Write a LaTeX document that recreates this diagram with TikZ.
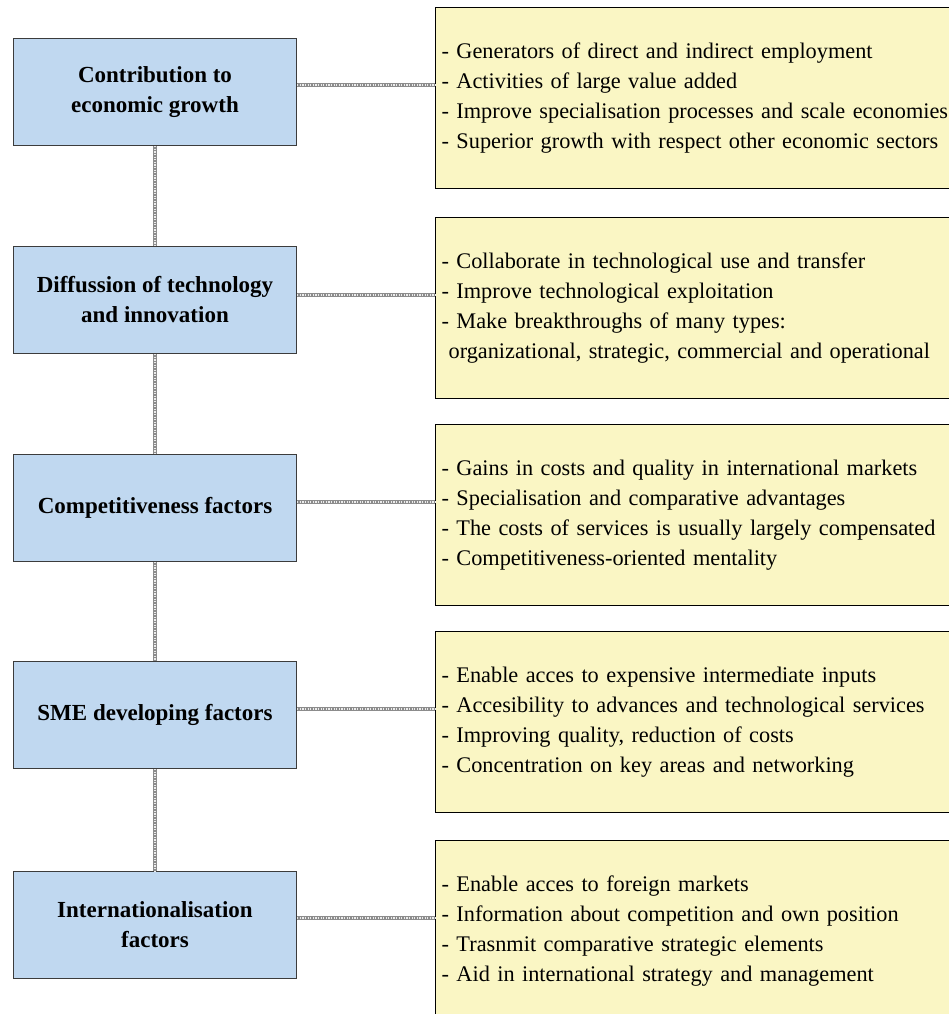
\documentclass[tikz,border=0pt]{standalone}
\usepackage{fontspec}
\setmainfont{Liberation Serif}
\definecolor{bluefill}{RGB}{192,216,240}
\definecolor{blueedge}{RGB}{60,60,60}
\definecolor{yelfill}{RGB}{250,246,196}
\definecolor{connc}{RGB}{140,140,140}
\begin{document}
\begin{tikzpicture}[x=1pt,y=-1pt,
  factor/.style={draw=blueedge,line width=1.3pt,fill=bluefill,minimum width=283pt,minimum height=107pt,
    align=center,font=\fontsize{23pt}{30pt}\selectfont\bfseries,inner sep=0pt},
  detail/.style={draw=black,line width=1.2pt,fill=yelfill,anchor=north west,minimum height=181pt,
    text width=560pt,align=left,inner xsep=6pt,inner ysep=0pt,
    font=\fontsize{22.3pt}{30pt}\selectfont},
  conn/.style={line width=3.6pt,draw=connc},
  conninner/.style={line width=1.4pt,draw=white!85!gray,dash pattern=on 1.3pt off 1.3pt}]
\clip (0,0) rectangle (949,1014);
\fill[white] (0,0) rectangle (949,1014);
% detail boxes
\node[detail] (y1) at (435,7) {- Generators of direct and indirect employment\\- Activities of large value added\\- Improve specialisation processes and scale economies\\- Superior growth with respect other economic sectors};
\node[detail] (y2) at (435,217) {- Collaborate in technological use and transfer\\- Improve technological exploitation\\- Make breakthroughs of many types:\\\hspace*{7pt}organizational, strategic, commercial and operational};
\node[detail] (y3) at (435,424) {- Gains in costs and quality in international markets\\- Specialisation and comparative advantages\\- The costs of services is usually largely compensated\\- Competitiveness-oriented mentality};
\node[detail] (y4) at (435,631) {- Enable acces to expensive intermediate inputs\\- Accesibility to advances and technological services\\- Improving quality, reduction of costs\\- Concentration on key areas and networking};
\node[detail] (y5) at (435,840) {- Enable acces to foreign markets\\- Information about competition and own position\\- Trasnmit comparative strategic elements\\- Aid in international strategy and management};
% factor boxes
\node[factor] (b1) at (155,92) {Contribution to\\economic growth};
\node[factor] (b2) at (155,300) {Diffussion of technology\\and innovation};
\node[factor] (b3) at (155,508) {Competitiveness factors};
\node[factor] (b4) at (155,715) {SME developing factors};
\node[factor] (b5) at (155,925) {Internationalisation\\factors};
% connector anchor points
\foreach \i in {1,...,5} {\coordinate (c\i) at ([yshift=13pt]y\i.west);}
% connectors
\foreach \a/\b in {b1/b2,b2/b3,b3/b4,b4/b5} {
  \draw[conn] (\a.south) -- (\b.north);
  \draw[conninner] (\a.south) -- (\b.north);
}
\foreach \i in {1,...,5} {
  \draw[conn] (b\i.east |- c\i) -- (c\i);
  \draw[conninner] (b\i.east |- c\i) -- (c\i);
}
\end{tikzpicture}
\end{document}
